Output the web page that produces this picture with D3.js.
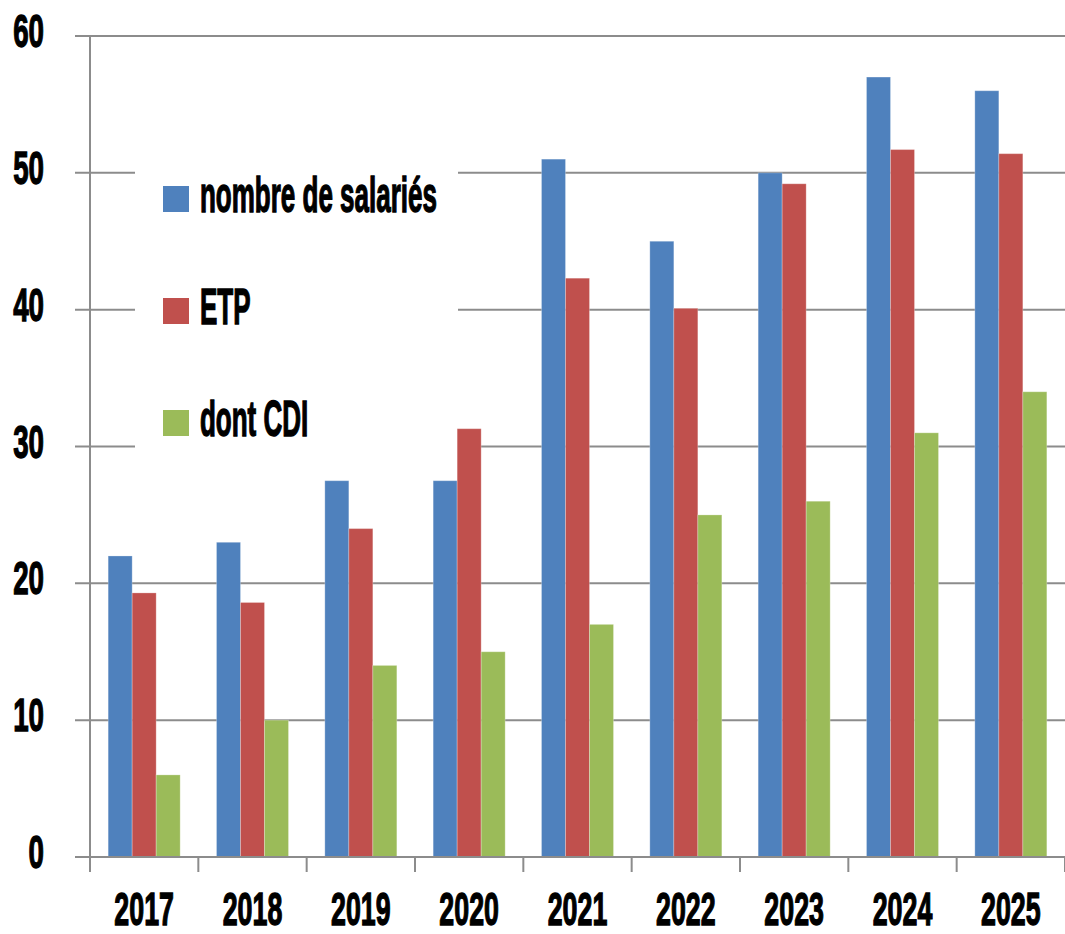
<!DOCTYPE html>
<html><head><meta charset="utf-8">
<script src="https://cdn.jsdelivr.net/npm/d3@7"></script>
<style>
html,body{margin:0;padding:0;background:#fff;}
text{font-family:"Liberation Sans",Arial,sans-serif;font-weight:bold;fill:#000;stroke:#000;stroke-width:1.4px;}
</style></head>
<body>
<svg id="c" width="1065" height="934"></svg>
<script>
const years = ["2017","2018","2019","2020","2021","2022","2023","2024","2025"];
const seriesNames = ["nombre de salariés","ETP","dont CDI"];
const salaries = [22, 23, 27.5, 27.5, 51, 45, 50, 57, 56];
const etp = [19.3, 18.6, 24, 31.3, 42.3, 40.1, 49.2, 51.7, 51.4];
const cdi = [6, 10, 14, 15, 17, 25, 26, 31, 34];
const yTicks = [0, 10, 20, 30, 40, 50, 60];
const colors = ["#4f81bd", "#c0504d", "#9bbb59"];

const seriesData = [salaries, etp, cdi];
const svg = d3.select("#c");
const W = 1065, H = 934;
const m = {left: 90, right: 0, top: 36, bottom: 77};

const x0 = d3.scaleBand().domain(years).range([m.left, W - m.right]).padding(0);
const x1 = d3.scaleBand().domain(seriesNames).range([0, x0.bandwidth()]).paddingInner(0).paddingOuter(0.757);
const y = d3.scaleLinear().domain([0, 60]).range([H - m.bottom, m.top]);

const grid = "#8c8c8c";

// gridlines
svg.append("g").selectAll("line").data(yTicks).join("line")
  .attr("x1", m.left - 15).attr("x2", W)
  .attr("y1", d => y(d)).attr("y2", d => y(d))
  .attr("stroke", grid).attr("stroke-width", 2);

// legend background box (covers gridlines)
const legend = svg.append("g");
legend.append("rect").attr("x", 135).attr("y", 140).attr("width", 323).attr("height", 316).attr("fill", "#fff");

// bars
const gBars = svg.append("g");
years.forEach((yr, i) => {
  seriesNames.forEach((s, j) => {
    const v = seriesData[j][i];
    gBars.append("rect")
      .attr("x", x0(yr) + x1(s))
      .attr("y", y(v))
      .attr("width", x1.bandwidth())
      .attr("height", y(0) - y(v))
      .attr("fill", colors[j])
      .attr("stroke", "#ffffff").attr("stroke-opacity", 0.25).attr("stroke-width", 1);
  });
});

// y axis line
svg.append("line").attr("x1", m.left).attr("x2", m.left)
  .attr("y1", y(60)).attr("y2", y(0) + 15).attr("stroke", grid).attr("stroke-width", 2);
// x axis line
svg.append("line").attr("x1", m.left - 15).attr("x2", W)
  .attr("y1", y(0)).attr("y2", y(0)).attr("stroke", grid).attr("stroke-width", 2);
// x ticks at band boundaries
const bounds = years.map(d => x0(d)).concat([x0(years[years.length-1]) + x0.bandwidth()]);
svg.append("g").selectAll("line").data(bounds).join("line")
  .attr("x1", d => d).attr("x2", d => d)
  .attr("y1", y(0)).attr("y2", y(0) + 15)
  .attr("stroke", grid).attr("stroke-width", 2);

// y labels
const sxY = 0.59;
svg.append("g").selectAll("text").data(yTicks).join("text")
  .attr("transform", d => `translate(44,${y(d) + 11}) scale(${sxY},1)`)
  .attr("text-anchor", "end")
  .style("font-size", "47px")
  .text(d => d);

// x labels
const sxX = 0.57;
svg.append("g").selectAll("text").data(years).join("text")
  .attr("transform", d => `translate(${x0(d) + x0.bandwidth()/2},925) scale(${sxX},1)`)
  .attr("text-anchor", "middle")
  .style("font-size", "47px")
  .text(d => d);

// legend
const sxL = 0.52;
seriesNames.forEach((s, j) => {
  const ly = 186 + j * 112;
  legend.append("rect").attr("x", 163).attr("y", ly).attr("width", 26).attr("height", 26).attr("fill", colors[j]);
  legend.append("text")
    .attr("transform", `translate(200,${ly + 26}) scale(${sxL},1)`)
    .style("font-size", "50px")
    .text(s);
});
</script>
</body></html>
